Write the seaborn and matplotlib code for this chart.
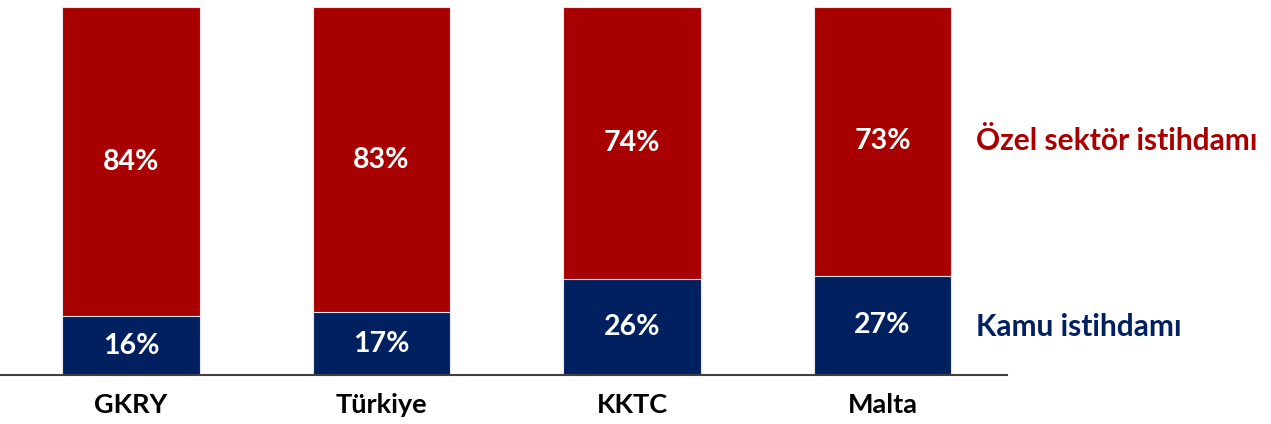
import matplotlib
matplotlib.use("Agg")
import matplotlib.pyplot as plt
import seaborn as sns
import pandas as pd

countries = ["GKRY", "Türkiye", "KKTC", "Malta"]
kamu = [16, 17, 26, 27]
ozel = [84, 83, 74, 73]
series_names = ["Özel sektör istihdamı", "Kamu istihdamı"]

RED = "#A80000"
BLUE = "#00205F"

sns.set_style("white")
plt.rcParams["font.family"] = ["Lato", "DejaVu Sans"]

df = pd.DataFrame({"country": countries, "kamu": kamu, "ozel": ozel})
df["total"] = df["kamu"] + df["ozel"]

fig = plt.figure(figsize=(12.71, 4.24), dpi=100)
ax = fig.add_axes([0.0, 0.1156, 0.7923, 0.868])

# full bar in red, public share drawn over it in blue
sns.barplot(data=df, x="country", y="total", color=RED, width=0.55,
            edgecolor="#e6e6ee", linewidth=0.8, saturation=1, ax=ax)
sns.barplot(data=df, x="country", y="kamu", color=BLUE, width=0.55,
            edgecolor="#e6e6ee", linewidth=0.8, saturation=1, ax=ax)

for i, (k, o) in enumerate(zip(kamu, ozel)):
    ax.text(i, k / 2, f"{k}%", ha="center", va="center", color="white",
            fontsize=20.5, fontweight="bold")
    ax.text(i, k + o / 2, f"{o}%", ha="center", va="center", color="white",
            fontsize=20.5, fontweight="bold")

ax.set_xlim(-0.523, 3.497)
ax.set_ylim(0, 100)
ax.set_xlabel("")
ax.set_ylabel("")
ax.set_yticks([])
for side in ["top", "right", "left"]:
    ax.spines[side].set_visible(False)
ax.spines["bottom"].set_color("#404040")
ax.spines["bottom"].set_linewidth(1.5)
ax.tick_params(axis="x", length=0, pad=13, labelsize=19.5, labelcolor="black")
for lbl in ax.get_xticklabels():
    lbl.set_fontweight("bold")

fig.text(0.768, 0.667, series_names[0], color=RED, fontsize=21.5,
         fontweight="bold", ha="left", va="center")
fig.text(0.768, 0.229, series_names[1], color=BLUE, fontsize=21.5,
         fontweight="bold", ha="left", va="center")

fig.savefig("out.png", dpi=100)
